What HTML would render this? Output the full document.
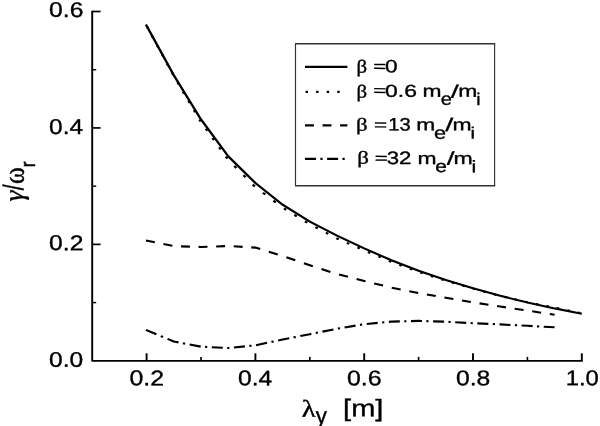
<!DOCTYPE html>
<html><head><meta charset="utf-8"><title>plot</title>
<style>html,body{margin:0;padding:0;background:#fff}svg{display:block;filter:blur(0.3px)}text{fill:#000;stroke:#000;stroke-linejoin:round}</style></head><body>
<svg width="600" height="426" viewBox="0 0 600 426">
<rect width="600" height="426" fill="#fff"/>
<g transform="scale(1.13 1)" stroke="#000" fill="none">
<path d="M81.59 10.65 V360.80 H515.75" stroke-width="1.7" stroke-linejoin="round"/>
<g>
<path d="M81.59 302.58 h3.54" stroke-width="1.45"/>
<path d="M81.59 244.37 h7.43" stroke-width="1.7"/>
<path d="M81.59 186.15 h3.54" stroke-width="1.45"/>
<path d="M81.59 127.93 h7.43" stroke-width="1.7"/>
<path d="M81.59 69.72 h3.54" stroke-width="1.45"/>
<path d="M81.59 11.50 h7.43" stroke-width="1.7"/>
<path d="M129.73 360.80 v-7.50" stroke-width="1.7"/>
<path d="M177.88 360.80 v-3.90" stroke-width="1.45"/>
<path d="M226.02 360.80 v-7.50" stroke-width="1.7"/>
<path d="M274.16 360.80 v-3.90" stroke-width="1.45"/>
<path d="M322.30 360.80 v-7.50" stroke-width="1.7"/>
<path d="M370.44 360.80 v-3.90" stroke-width="1.45"/>
<path d="M418.58 360.80 v-7.50" stroke-width="1.7"/>
<path d="M466.73 360.80 v-3.90" stroke-width="1.45"/>
<path d="M514.87 360.80 v-7.50" stroke-width="1.7"/>
</g>
<g stroke-width="2.1" stroke-linejoin="round">
<path d="M129.98 26.52 L131.00 28.62M134.46 35.81 L135.47 37.91M138.93 45.10 L139.94 47.20M143.40 54.39 L144.41 56.49M147.87 63.68 L148.89 65.78M152.35 72.97 L153.36 75.07M157.07 82.26 L158.17 84.36M161.92 91.55 L163.02 93.65M166.78 100.84 L167.87 102.94M171.63 110.13 L172.72 112.23M176.48 119.42 L177.57 121.52M182.10 128.71 L183.44 130.81M188.03 138.00 L189.37 140.10M193.96 147.29 L195.30 149.39M199.89 156.58 L201.23 158.68M207.30 165.87 L209.15 167.97M215.49 175.16 L217.34 177.26M223.68 184.45 L225.53 186.55M232.66 192.75 L234.76 194.54M241.95 200.67 L244.05 202.46M251.24 208.40 L253.34 209.85M260.53 214.84 L262.63 216.30M269.82 221.29 L271.92 222.74M279.11 227.22 L281.21 228.46M288.40 232.70 L290.50 233.94M297.69 238.18 L298.23 238.50L299.79 239.27M306.98 242.82 L309.08 243.86M316.27 247.42 L318.37 248.46M325.56 251.96 L327.66 252.96M334.85 256.39 L336.95 257.40M344.14 260.83 L346.24 261.84M353.43 264.86 L355.53 265.74M362.72 268.76 L364.82 269.64M372.01 272.57 L374.11 273.32M381.30 275.92 L383.40 276.68M390.59 279.28 L392.69 280.04M399.88 282.46 L401.98 283.15M409.17 285.51 L411.27 286.20M418.46 288.56 L418.58 288.60L420.56 289.21M427.75 291.42 L429.85 292.06M437.04 294.27 L439.14 294.92M446.33 296.96 L448.43 297.51M455.62 299.39 L457.72 299.94M464.91 301.82 L466.73 302.30L467.01 302.36M474.20 303.91 L476.30 304.37M483.49 305.92 L485.59 306.37M492.78 307.98 L494.88 308.48M502.07 310.22 L504.17 310.72M511.36 312.45 L513.46 312.96"/>
<path d="M129.12 24.53 L153.81 75.30 L177.88 119.40 L201.95 156.20 L226.02 183.00 L250.09 204.70 L274.16 221.70 L298.23 235.60 L322.30 248.40 L346.37 260.30 L370.44 270.80 L394.51 280.00 L418.58 288.30 L442.65 295.80 L466.73 302.50 L490.80 308.40 L514.87 313.70"/>
<path d="M129.12 240.46 L136.99 242.26M144.65 244.01 L152.53 245.81M160.19 246.34 L168.07 246.63M175.73 246.92 L177.88 247.00L183.61 246.76M191.27 246.44 L199.15 246.12M206.81 246.32 L214.69 246.85M222.35 247.36 L226.02 247.60L230.23 249.07M237.89 251.74 L245.77 254.49M253.43 257.29 L261.31 260.34M268.97 263.30 L274.16 265.30L276.85 266.27M284.51 269.04 L292.39 271.89M300.05 274.53 L307.93 276.82M315.59 279.05 L322.30 281.00L323.47 281.32M331.13 283.42 L339.01 285.58M346.67 287.67 L354.55 289.43M362.21 291.15 L370.09 292.92M377.75 294.43 L385.63 295.97M393.29 297.46 L394.51 297.70L401.17 299.00M408.83 300.50 L416.71 302.03M424.37 303.39 L432.25 304.73M439.91 306.03 L442.65 306.50L447.79 307.37M455.45 308.68 L463.33 310.02M470.99 311.34 L478.87 312.72M486.53 314.06 L490.80 314.80"/>
<path d="M129.12 329.91 L138.41 334.27M142.30 336.10 L144.25 337.01M148.26 338.90 L153.81 341.50L157.99 342.40M161.88 343.25 L163.83 343.67M167.84 344.53 L177.58 346.63M181.47 346.89 L183.42 347.00M187.42 347.22 L197.16 347.74M201.05 347.95 L201.95 348.00L203.00 347.88M207.01 347.43 L216.74 346.34M220.64 345.90 L222.58 345.69M226.59 345.16 L236.33 342.82M240.22 341.88 L242.17 341.41M246.18 340.44 L250.09 339.50L255.91 338.22M259.81 337.36 L261.75 336.93M265.76 336.05 L274.16 334.20L275.50 333.89M279.39 333.00 L281.34 332.56M285.35 331.64 L295.08 329.42M298.97 328.56 L300.92 328.20M304.93 327.45 L314.66 325.63M318.56 324.90 L320.50 324.54M324.51 323.96 L334.25 322.91M338.14 322.49 L340.09 322.28M344.10 321.85 L346.37 321.60L353.83 321.38M357.73 321.27 L359.67 321.21M363.68 321.10 L370.44 320.90L373.42 321.00M377.31 321.13 L379.26 321.19M383.27 321.33 L393.00 321.65M396.89 321.85 L398.84 321.97M402.85 322.22 L412.58 322.83M416.48 323.07 L418.42 323.19M422.43 323.39 L432.17 323.88M436.06 324.07 L438.01 324.17M442.02 324.37 L442.65 324.40L451.75 324.93M455.65 325.16 L457.59 325.27M461.60 325.50 L466.73 325.80L471.34 326.09M475.23 326.33 L477.18 326.45M481.19 326.70 L490.80 327.30"/>
</g>
</g>
<rect x="295.5" y="43.85" width="199.1" height="141.8" fill="#fff"/>
<path d="M294.95 43.85 H495.2 M294.95 185.65 H495.2" stroke="#333" stroke-width="1.5" fill="none"/>
<path d="M295.5 43.85 V185.65 M494.6 43.85 V185.65" stroke="#333" stroke-width="1.15" fill="none"/>
<g transform="scale(1.13 1)" stroke="#000" fill="none" stroke-width="2.1">
<path d="M269.91 66.9 H307.43"/>
<path d="M270.44 91.9 H306.19" stroke-dasharray="2.10 7.24"/>
<path d="M269.91 125.4 H307.43" stroke-dasharray="7.88 7.66"/>
<path d="M269.91 158.9 H307.43" stroke-dasharray="9.73 3.89 1.95 4.01"/>
</g>
<text transform="matrix(0.2092 0.002 0 0.1817 356.41 72.39)" font-size="100" stroke-width="1.94" font-family='"Liberation Serif",serif'>β</text>
<text transform="matrix(0.2218 0.002 0 0.1557 373.20 71.39)" font-size="100" stroke-width="2.01" font-family='"Liberation Sans",sans-serif'>=</text>
<text transform="matrix(0.2271 0.002 0 0.1786 385.09 72.37)" font-size="100" stroke-width="1.87" font-family='"Liberation Sans",sans-serif'>0</text>
<text transform="matrix(0.2092 0.002 0 0.1815 356.54 97.41)" font-size="100" stroke-width="1.95" font-family='"Liberation Serif",serif'>β</text>
<text transform="matrix(0.2233 0.002 0 0.1517 373.29 95.45)" font-size="100" stroke-width="2.03" font-family='"Liberation Sans",sans-serif'>=</text>
<text transform="matrix(0.2293 0.002 0 0.1735 385.11 96.69)" font-size="100" stroke-width="1.89" font-family='"Liberation Sans",sans-serif'>0.6</text>
<text transform="matrix(0.2283 0.002 0 0.1711 422.58 96.75)" font-size="100" stroke-width="1.90" font-family='"Liberation Sans",sans-serif'>m</text>
<text transform="matrix(0.2012 0.002 0 0.1734 440.67 104.78)" font-size="100" stroke-width="2.03" font-family='"Liberation Sans",sans-serif'>e</text>
<text transform="matrix(0.2911 0.002 0 0.1827 450.63 97.71)" font-size="100" stroke-width="1.60" font-family='"Liberation Sans",sans-serif'>/</text>
<text transform="matrix(0.2294 0.002 0 0.1713 458.24 96.75)" font-size="100" stroke-width="1.90" font-family='"Liberation Sans",sans-serif'>m</text>
<text transform="matrix(0.1922 0.002 0 0.1701 476.29 104.97)" font-size="100" stroke-width="2.10" font-family='"Liberation Sans",sans-serif'>i</text>
<text transform="matrix(0.2286 0.002 0 0.1804 356.09 130.51)" font-size="100" stroke-width="1.86" font-family='"Liberation Serif",serif'>β</text>
<text transform="matrix(0.2254 0.002 0 0.1531 373.95 129.97)" font-size="100" stroke-width="2.01" font-family='"Liberation Sans",sans-serif'>=</text>
<text transform="matrix(0.2023 0.002 0 0.1810 388.18 130.49)" font-size="100" stroke-width="1.98" font-family='"Liberation Sans",sans-serif'>13</text>
<text transform="matrix(0.2283 0.002 0 0.1685 416.36 130.28)" font-size="100" stroke-width="1.92" font-family='"Liberation Sans",sans-serif'>m</text>
<text transform="matrix(0.2174 0.002 0 0.1733 433.97 138.70)" font-size="100" stroke-width="1.95" font-family='"Liberation Sans",sans-serif'>e</text>
<text transform="matrix(0.2888 0.002 0 0.1851 445.31 131.06)" font-size="100" stroke-width="1.60" font-family='"Liberation Sans",sans-serif'>/</text>
<text transform="matrix(0.2293 0.002 0 0.1681 452.54 130.29)" font-size="100" stroke-width="1.91" font-family='"Liberation Sans",sans-serif'>m</text>
<text transform="matrix(0.2056 0.002 0 0.1633 470.54 138.39)" font-size="100" stroke-width="2.06" font-family='"Liberation Sans",sans-serif'>i</text>
<text transform="matrix(0.2299 0.002 0 0.1787 357.23 163.50)" font-size="100" stroke-width="1.86" font-family='"Liberation Serif",serif'>β</text>
<text transform="matrix(0.2241 0.002 0 0.1510 374.65 163.37)" font-size="100" stroke-width="2.03" font-family='"Liberation Sans",sans-serif'>=</text>
<text transform="matrix(0.2224 0.002 0 0.1798 386.73 163.99)" font-size="100" stroke-width="1.89" font-family='"Liberation Sans",sans-serif'>32</text>
<text transform="matrix(0.2290 0.002 0 0.1699 417.46 163.93)" font-size="100" stroke-width="1.91" font-family='"Liberation Sans",sans-serif'>m</text>
<text transform="matrix(0.2090 0.002 0 0.1716 435.16 172.11)" font-size="100" stroke-width="2.00" font-family='"Liberation Sans",sans-serif'>e</text>
<text transform="matrix(0.2831 0.002 0 0.1865 446.67 164.64)" font-size="100" stroke-width="1.62" font-family='"Liberation Sans",sans-serif'>/</text>
<text transform="matrix(0.2310 0.002 0 0.1700 453.61 163.93)" font-size="100" stroke-width="1.90" font-family='"Liberation Sans",sans-serif'>m</text>
<text transform="matrix(0.2162 0.002 0 0.1680 471.62 172.18)" font-size="100" stroke-width="1.98" font-family='"Liberation Sans",sans-serif'>i</text>
<text transform="matrix(0.2467 0.002 0 0.2109 49.09 16.87)" font-size="100" stroke-width="1.66" font-family='"Liberation Sans",sans-serif'>0.6</text>
<text transform="matrix(0.2446 0.002 0 0.2150 49.10 133.88)" font-size="100" stroke-width="1.65" font-family='"Liberation Sans",sans-serif'>0.4</text>
<text transform="matrix(0.2467 0.002 0 0.2146 49.08 250.12)" font-size="100" stroke-width="1.65" font-family='"Liberation Sans",sans-serif'>0.2</text>
<text transform="matrix(0.2460 0.002 0 0.2106 49.06 366.69)" font-size="100" stroke-width="1.66" font-family='"Liberation Sans",sans-serif'>0.0</text>
<text transform="matrix(0.2487 0.002 0 0.2151 129.53 385.25)" font-size="100" stroke-width="1.64" font-family='"Liberation Sans",sans-serif'>0.2</text>
<text transform="matrix(0.2458 0.002 0 0.2140 238.09 385.26)" font-size="100" stroke-width="1.65" font-family='"Liberation Sans",sans-serif'>0.4</text>
<text transform="matrix(0.2489 0.002 0 0.2114 346.89 385.16)" font-size="100" stroke-width="1.65" font-family='"Liberation Sans",sans-serif'>0.6</text>
<text transform="matrix(0.2470 0.002 0 0.2136 456.00 385.15)" font-size="100" stroke-width="1.65" font-family='"Liberation Sans",sans-serif'>0.8</text>
<text transform="matrix(0.2381 0.002 0 0.2142 565.77 385.17)" font-size="100" stroke-width="1.68" font-family='"Liberation Sans",sans-serif'>1.0</text>
<text transform="matrix(0.002 -0.2791 0.2787 0 23.05 201.39)" font-size="100" stroke-width="1.36" font-family='"Liberation Serif",serif' font-style="italic">γ</text>
<text transform="matrix(0.002 -0.2089 0.2867 0 23.18 190.35)" font-size="100" stroke-width="1.53" font-family='"Liberation Sans",sans-serif'>/</text>
<text transform="matrix(0.002 -0.2552 0.2973 0 23.82 183.91)" font-size="100" stroke-width="1.38" font-family='"Liberation Serif",serif'>ω</text>
<text transform="matrix(0.002 -0.1778 0.2092 0 34.88 167.36)" font-size="100" stroke-width="1.96" font-family='"Liberation Sans",sans-serif'>r</text>
<text transform="matrix(0.2856 0.002 0 0.2433 301.87 416.80)" font-size="100" stroke-width="1.44" font-family='"Liberation Serif",serif'>λ</text>
<text transform="matrix(0.2233 0.002 0 0.2341 315.75 423.58)" font-size="100" stroke-width="1.66" font-family='"Liberation Sans",sans-serif'>y</text>
<text transform="matrix(0.2905 0.002 0 0.2396 343.08 416.12)" font-size="100" stroke-width="1.43" font-family='"Liberation Sans",sans-serif'>[m]</text>
</svg></body></html>
